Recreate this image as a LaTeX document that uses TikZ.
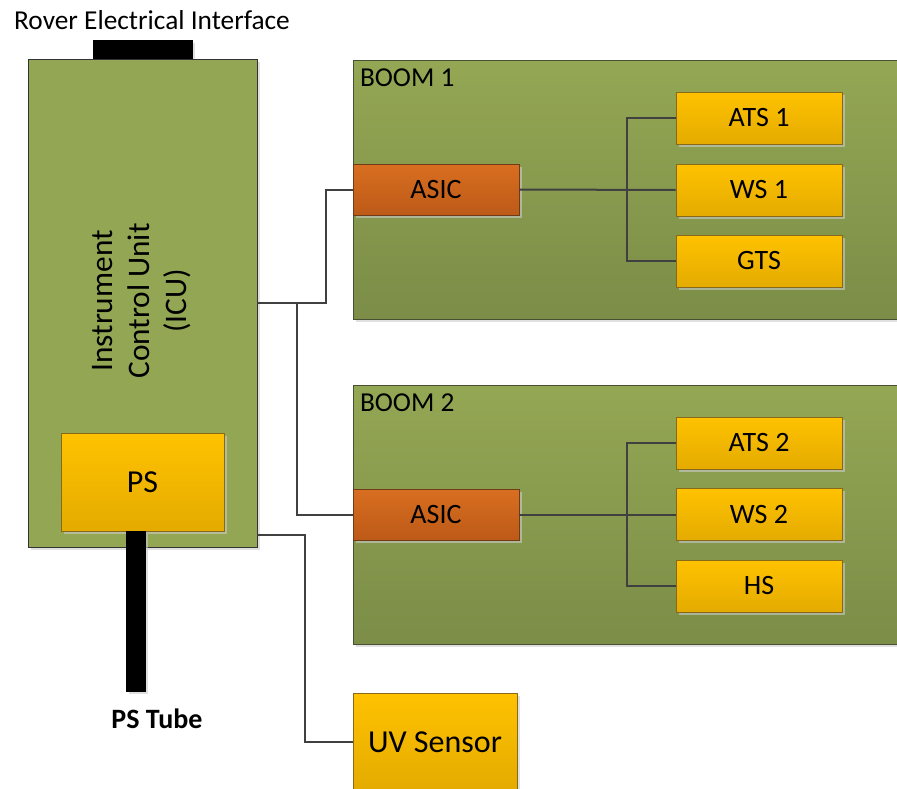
\documentclass[tikz,border=0pt]{standalone}
\usepackage{fontspec}
\setmainfont{Carlito}
\usetikzlibrary{
  calc,
  positioning,
  shadows
}
\definecolor{boardtop}{RGB}{148,167,84}
\definecolor{boardbot}{RGB}{123,141,71}
\definecolor{boardline}{RGB}{72,80,52}
\definecolor{icugreen}{RGB}{146,166,83}
\definecolor{asictop}{RGB}{216,110,32}
\definecolor{asicbot}{RGB}{189,90,24}
\definecolor{asicline}{RGB}{110,60,25}
\definecolor{parttop}{RGB}{255,194,0}
\definecolor{partbot}{RGB}{228,171,0}
\definecolor{partline}{RGB}{135,105,25}
\definecolor{wiregray}{RGB}{64,64,64}
\newcommand{\pxu}{0.75pt}
\tikzset{
  soft shadow/.style={drop shadow={shadow xshift=2.2pt,shadow yshift=-2.2pt,fill=black!20,opacity=.6}},
  board/.style={draw=boardline,top color=boardtop,bottom color=boardbot,soft shadow,inner sep=0pt},
  icu box/.style={draw=black!80,fill=icugreen,soft shadow,inner sep=0pt},
  asic box/.style={draw=asicline,top color=asictop,bottom color=asicbot,soft shadow,inner sep=0pt,font=\fontsize{21}{25}\selectfont},
  part box/.style={draw=partline,top color=parttop,bottom color=partbot,soft shadow,inner sep=0pt,font=\fontsize{21}{25}\selectfont},
  plug/.style={draw=black,fill=black,soft shadow,inner sep=0pt},
  wire/.style={draw=wiregray,line width=1.5pt},
  boardlabel/.style={anchor=north west,inner sep=0pt,font=\fontsize{20.5}{24}\selectfont}
}
% block: [style]{name}{centre}{width}{height}{text}
\newcommand{\blk}[6][]{%
  \node[#1,minimum width=#4*\pxu,minimum height=#5*\pxu] (#2) at (#3) {#6};%
}

\begin{document}
\begin{tikzpicture}[x=0.75pt,y=-0.75pt]
  \useasboundingbox (0,0) rectangle (897,789);
  \clip (0,0) rectangle (897,789);

  % Instrument control unit with its power supply.
  \node[font=\fontsize{20.5}{24}\selectfont] (ifacelabel) at (152,20) {Rover Electrical Interface};
  \blk[plug]{iface}{142.5,50}{99}{20}{}
  \blk[icu box]{icu}{142.5,303}{229}{488}{}
  \node[rotate=90,align=center,font=\fontsize{23.5}{27.75}\selectfont] (icutext) at (142,301)
    {Instrument\\Control Unit\\(ICU)};
  \blk[part box,font=\fontsize{24}{28}\selectfont]{ps}{142.5,482}{163}{98}{PS}
  \blk[plug]{tube}{135.5,611}{19}{160}{}
  \node[font=\fontsize{21}{24}\selectfont\bfseries] (tubelabel) at (157,719) {PS Tube};

  % Boom 1.
  \blk[board]{boom1}{629,189.5}{552}{259}{}
  \node[boardlabel] (boom1label) at ($(boom1.north west)+(7,9)$) {BOOM 1};
  \blk[asic box]{asic1}{436,189.5}{166}{51}{ASIC}
  \blk[part box]{ats1}{759,118}{166}{52}{ATS 1}
  \blk[part box]{ws1}{759,190}{166}{52}{WS 1}
  \blk[part box]{gts}{759,261}{166}{52}{GTS}

  % Boom 2.
  \blk[board]{boom2}{629,514.5}{552}{259}{}
  \node[boardlabel] (boom2label) at ($(boom2.north west)+(7,9)$) {BOOM 2};
  \blk[asic box]{asic2}{436,514.5}{166}{51}{ASIC}
  \blk[part box]{ats2}{759,443}{166}{52}{ATS 2}
  \blk[part box]{ws2}{759,514.5}{166}{52}{WS 2}
  \blk[part box]{hs}{759,586}{166}{52}{HS}

  \blk[part box,font=\fontsize{24}{28}\selectfont]{uv}{435,742}{164}{98}{UV Sensor}

  % Wiring.
  \coordinate (split) at ($(icu.east)+(40,0)$);
  \draw[wire] (icu.east) -- ++(69,0) |- (asic1.west);
  \draw[wire] (icu.east) -- (split) |- (asic2.west);
  \draw[wire] ($(icu.south east)+(0,-12)$) -- ++(48,0) |- (uv.west);
  \foreach \a/\t/\m/\b in {asic1/ats1/ws1/gts,asic2/ats2/ws2/hs} {
    \draw[wire] (\a.east) -- (\m.west);
    \draw[wire] (\t.west) -- ++(-49,0) |- (\b.west);
  }
\end{tikzpicture}
\end{document}
